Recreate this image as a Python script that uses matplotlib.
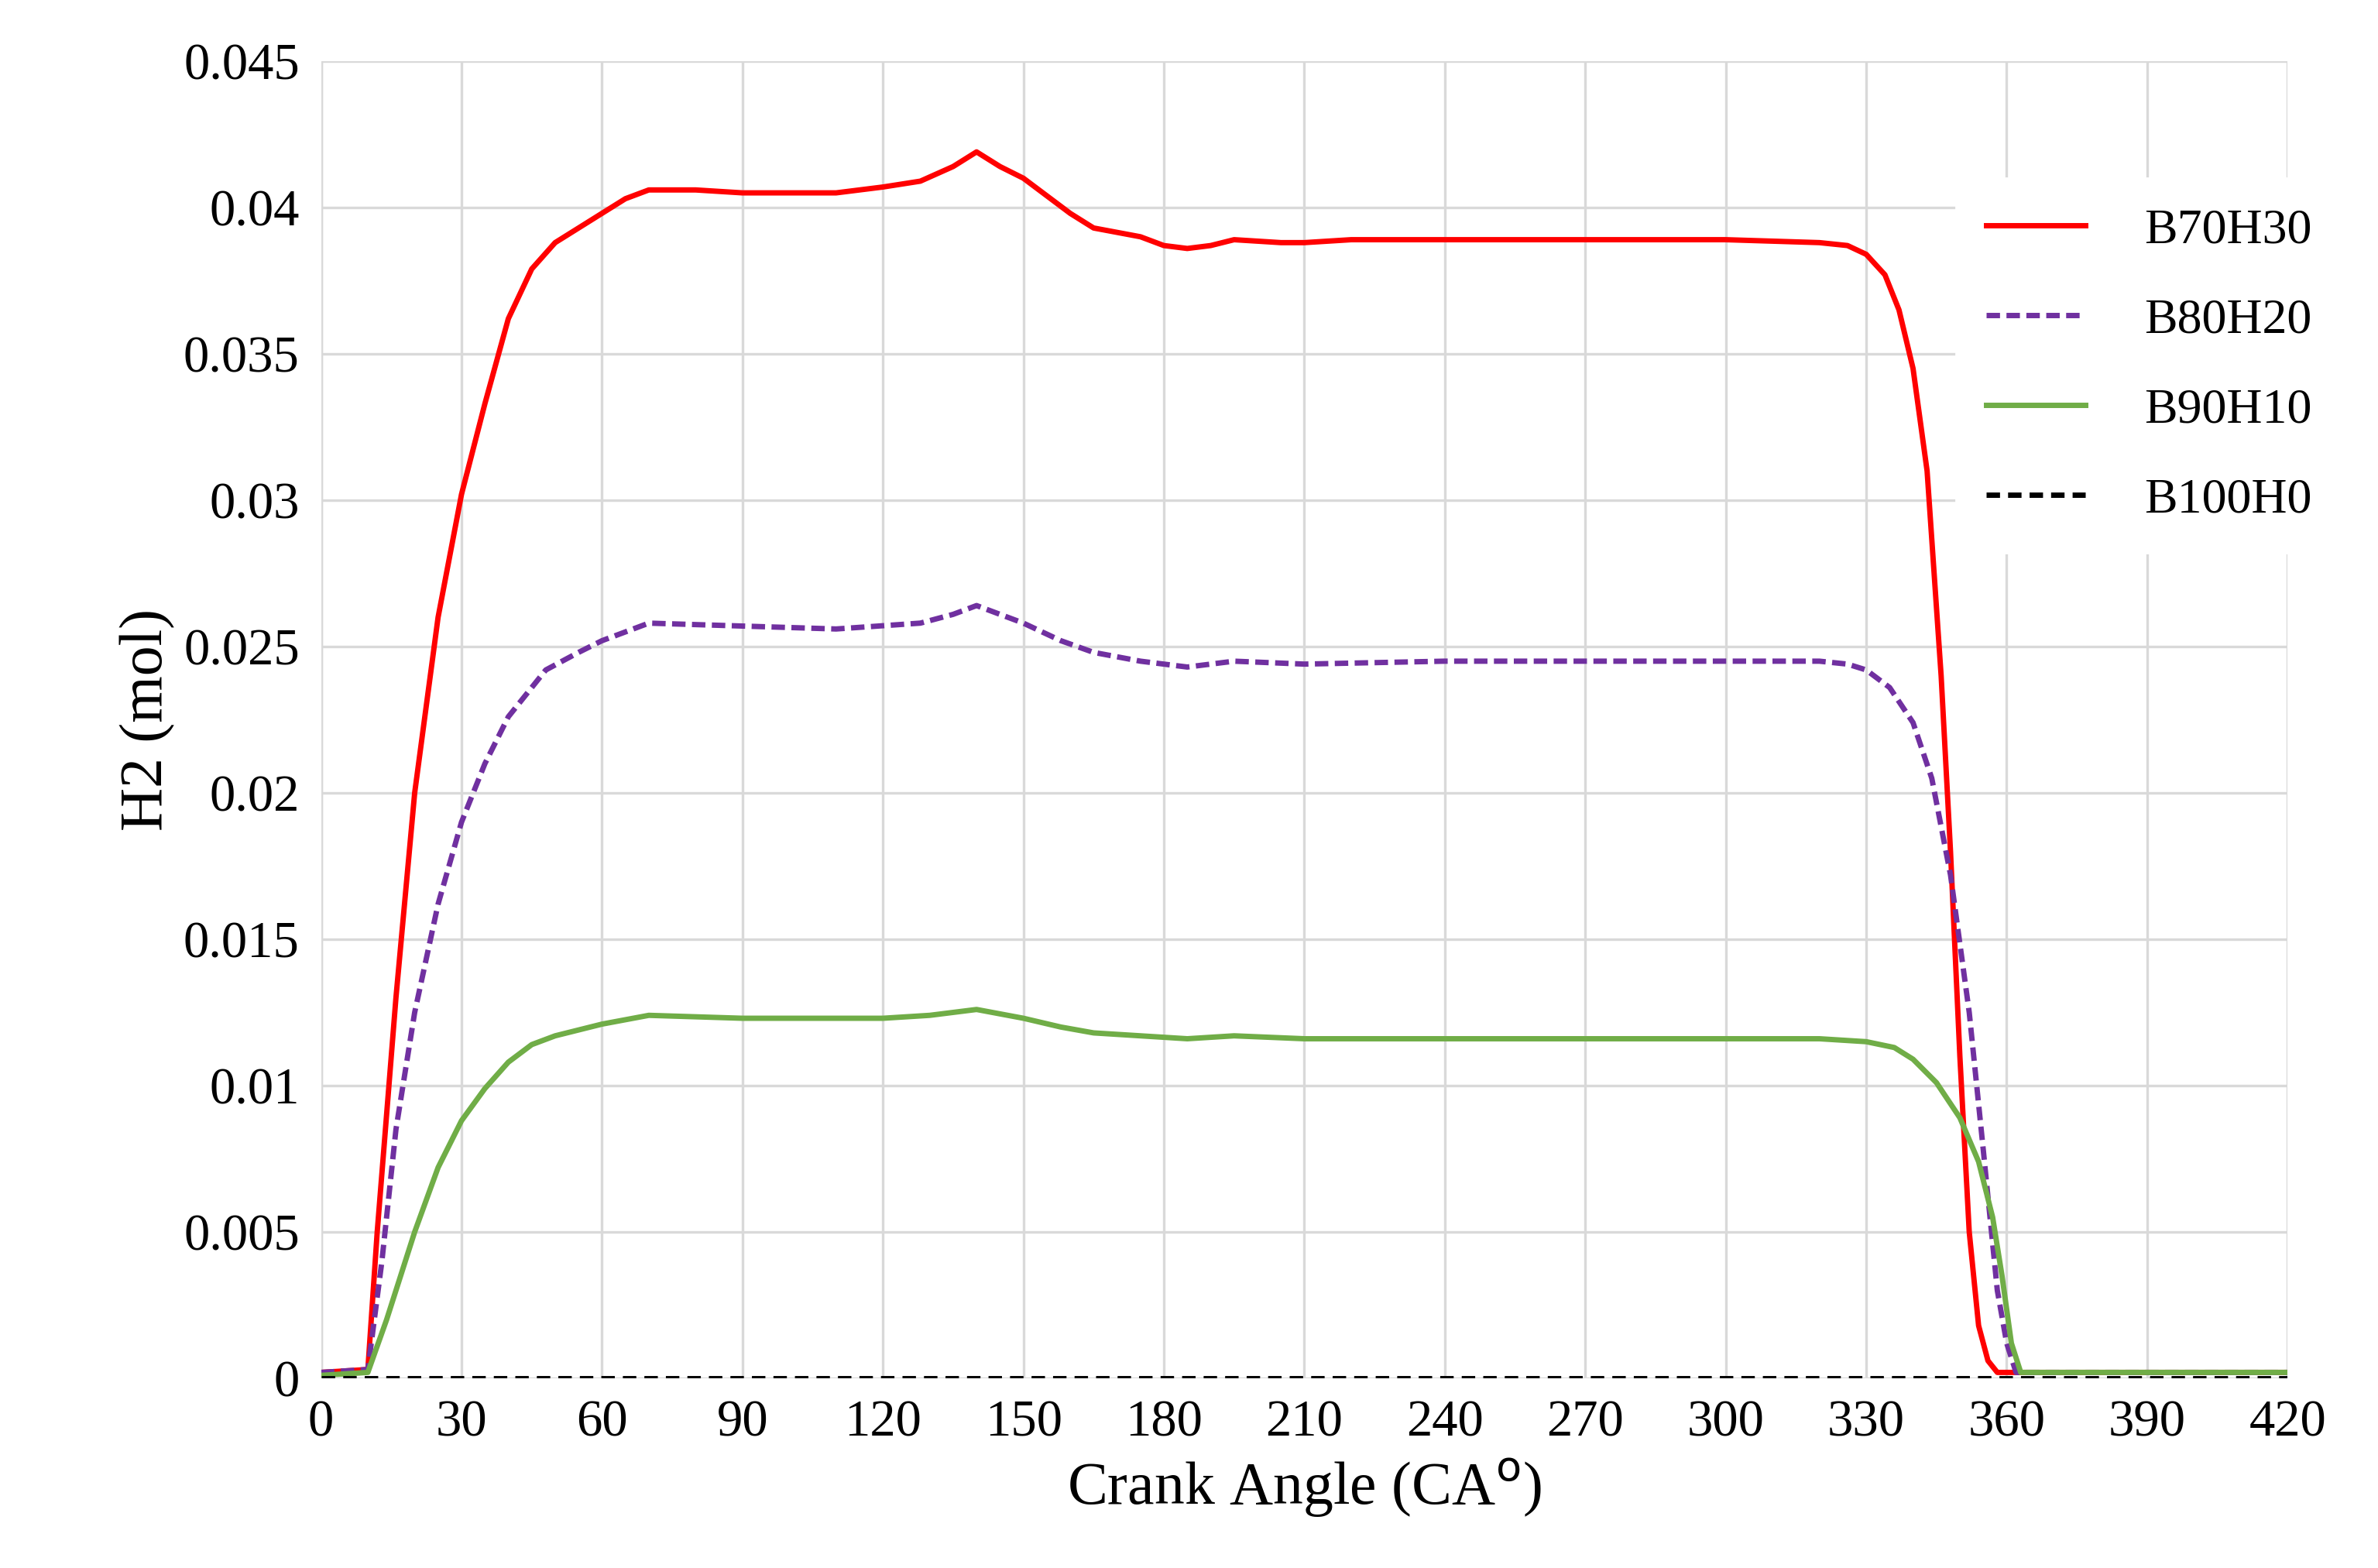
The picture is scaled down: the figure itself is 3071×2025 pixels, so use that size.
import matplotlib.pyplot as plt

plt.rcParams['font.family'] = ['Liberation Serif', 'DejaVu Serif']

# B70H30
x70 = [0, 10, 12, 16, 20, 25, 30, 35, 40, 45, 50, 55, 60, 65, 70, 80, 90, 100, 110, 120, 128, 135, 140, 145, 150,
       155, 160, 165, 175, 180, 185, 190, 195, 205, 210, 220, 230, 240, 300, 320, 326, 330, 334, 337, 340, 343, 346,
       348, 350, 352, 354, 356, 358, 420]
y70 = [0.0002, 0.0003, 0.005, 0.013, 0.020, 0.026, 0.0302, 0.0333, 0.0362, 0.0379, 0.0388, 0.0393, 0.0398, 0.0403,
       0.0406, 0.0406, 0.0405, 0.0405, 0.0405, 0.0407, 0.0409, 0.0414, 0.0419, 0.0414, 0.0410, 0.0404, 0.0398, 0.0393,
       0.0390, 0.0387, 0.0386, 0.0387, 0.0389, 0.0388, 0.0388, 0.0389, 0.0389, 0.0389, 0.0389, 0.0388, 0.0387, 0.0384,
       0.0377, 0.0365, 0.0345, 0.031, 0.024, 0.018, 0.011, 0.005, 0.0018, 0.0006, 0.0002, 0.0002]

# B80H20
x80 = [0, 10, 13, 16, 20, 25, 30, 35, 40, 48, 55, 60, 70, 90, 110, 128, 135, 140, 150, 158, 165, 175, 185, 195, 210,
       240, 320, 326, 330, 335, 340, 344, 348, 352, 355, 358, 360, 362, 420]
y80 = [0.0002, 0.0003, 0.004, 0.0085, 0.0125, 0.0162, 0.019, 0.021, 0.0226, 0.0242, 0.0248, 0.0252, 0.0258, 0.0257,
       0.0256, 0.0258, 0.0261, 0.0264, 0.0258, 0.0252, 0.0248, 0.0245, 0.0243, 0.0245, 0.0244, 0.0245, 0.0245, 0.0244,
       0.0242, 0.0236, 0.0224, 0.0205, 0.0172, 0.0125, 0.0078, 0.003, 0.0012, 0.0002, 0.0002]

# B90H10
x90 = [0, 10, 14, 20, 25, 30, 35, 40, 45, 50, 60, 70, 90, 120, 130, 140, 150, 158, 165, 185, 195, 210, 240, 320, 330,
       336, 340, 345, 350, 354, 357, 359, 361, 363, 420]
y90 = [0.0001, 0.0002, 0.002, 0.005, 0.0072, 0.0088, 0.0099, 0.0108, 0.0114, 0.0117, 0.0121, 0.0124, 0.0123, 0.0123,
       0.0124, 0.0126, 0.0123, 0.0120, 0.0118, 0.0116, 0.0117, 0.0116, 0.0116, 0.0116, 0.0115, 0.0113, 0.0109, 0.0101,
       0.0089, 0.0074, 0.0055, 0.0035, 0.0012, 0.0002, 0.0002]

# B100H0
x100 = [0, 420]
y100 = [0, 0]

fig = plt.figure(figsize=(15.355, 10.125), dpi=200)
ax = fig.add_axes([0.135, 0.121, 0.827, 0.84])

ax.plot(x70, y70, color='#FF0000', lw=2.5, label='B70H30')
ax.plot(x80, y80, color='#7030A0', lw=2.5, ls=(0, (2.5, 1.2)), label='B80H20')
ax.plot(x90, y90, color='#70AD47', lw=2.5, label='B90H10')
ax.plot(x100, y100, color='black', lw=2.5, ls=(0, (2.5, 1.5)), label='B100H0')

ax.set_xlim(0, 420)
ax.set_ylim(0, 0.045)
ax.set_xticks(range(0, 421, 30))
ax.set_yticks([i * 0.005 for i in range(10)])
ax.set_yticklabels(['0', '0.005', '0.01', '0.015', '0.02', '0.025', '0.03', '0.035', '0.04', '0.045'])
ax.grid(True, color='#D9D9D9', lw=1.2)
ax.set_axisbelow(True)
for s in ax.spines.values():
    s.set_visible(False)
ax.axvline(0, color='#D9D9D9', lw=1.2, zorder=0)
ax.tick_params(length=0, labelsize=24, pad=10)

ax.set_xlabel('Crank Angle (CA$^{\\mathrm{o}}$)', fontsize=28)
ax.set_ylabel('H2 (mol)', fontsize=28)

leg = ax.legend(loc='upper right', bbox_to_anchor=(1.04, 0.93), fontsize=23, frameon=True, fancybox=False,
                edgecolor='white', framealpha=1, handlelength=2.0, handletextpad=1.2, labelspacing=0.9,
                borderpad=0.6)

fig.savefig('out.png')
